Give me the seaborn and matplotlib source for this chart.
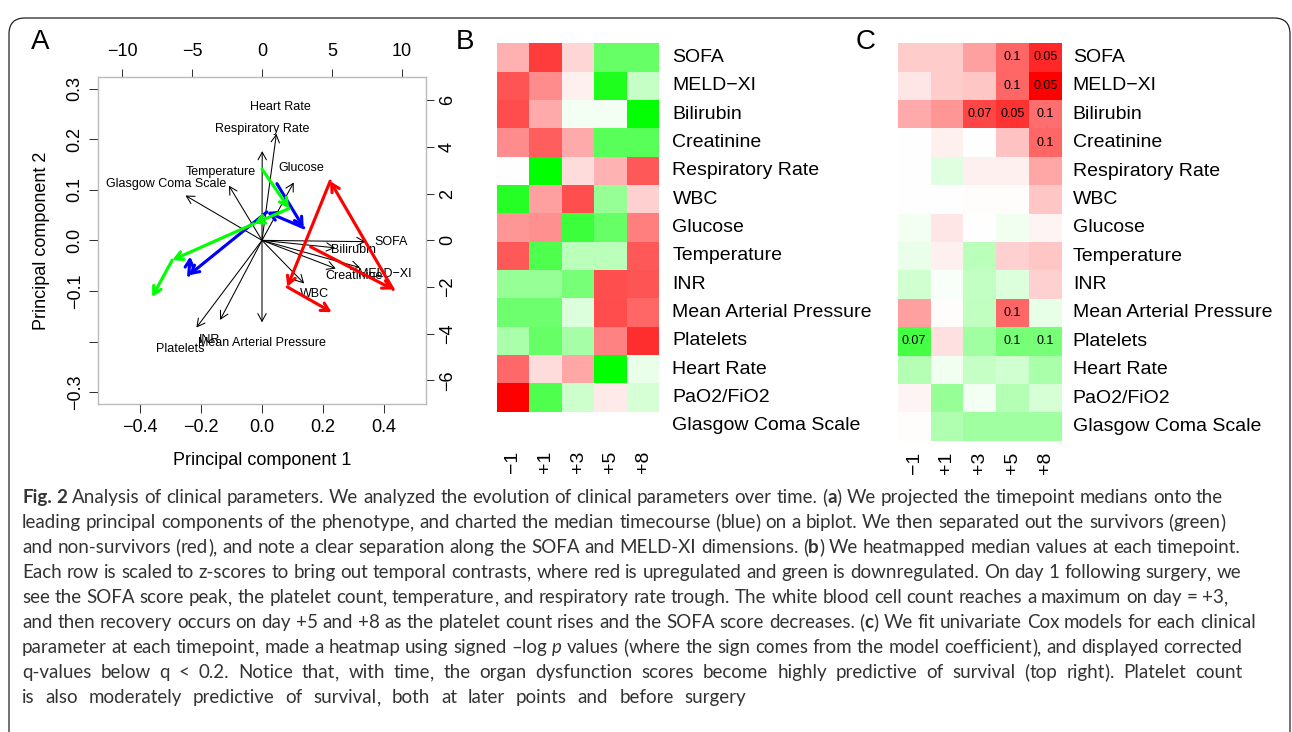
"""Fig. 2 - clinical parameters: PCA biplot plus two timepoint heatmaps."""

import re
import numpy as np
import pandas as pd
import matplotlib
matplotlib.use("Agg")
import matplotlib.pyplot as plt
import seaborn as sns
from matplotlib.colors import LinearSegmentedColormap
from matplotlib.patches import FancyBboxPatch
from matplotlib.transforms import IdentityTransform

plt.rcParams["font.family"] = ["Liberation Sans", "DejaVu Sans"]

# ---------------- data ----------------
timepoints = ["\u22121", "+1", "+3", "+5", "+8"]
params = ["SOFA", "MELD\u2212XI", "Bilirubin", "Creatinine", "Respiratory Rate",
          "WBC", "Glucose", "Temperature", "INR", "Mean Arterial Pressure",
          "Platelets", "Heart Rate", "PaO2/FiO2", "Glasgow Coma Scale"]

# panel A: variable loadings (top / right axis units, label position)
load_names = ["Heart Rate", "Respiratory Rate", "Glucose", "Temperature",
              "Glasgow Coma Scale", "SOFA", "Bilirubin", "MELD\u2212XI",
              "Creatinine", "WBC", "INR", "Mean Arterial Pressure", "Platelets"]
load_x = [1.29, 0.02, 2.84, -2.96, -6.85, 9.26, 6.54, 8.78, 6.60, 3.77, -3.75, 0.0, -5.87]
load_y = [5.71, 4.78, 3.10, 2.93, 2.40, -0.07, -0.40, -1.46, -1.51, -2.31, -4.26, -4.39, -4.67]
ARROW_FRAC = 0.8  # biplot draws arrows to 80% of the label position

# panel A: timecourse medians in PC space (-1, +1, +3, +5, +8)
median_pc1 = [0.049, 0.137, 0.016, -0.241, -0.236]
median_pc2 = [0.112, 0.025, 0.056, -0.069, -0.032]
surv_pc1 = [0.000, 0.089, -0.026, -0.295, -0.361]
surv_pc2 = [0.141, 0.063, 0.033, -0.039, -0.112]
nonsurv_pc1 = [0.160, 0.431, 0.224, 0.083, 0.229]
nonsurv_pc2 = [-0.013, -0.097, 0.117, -0.092, -0.142]

pc1_ticks = [-0.4, -0.2, 0.0, 0.2, 0.4]
pc1_labels = ["\u22120.4", "\u22120.2", "0.0", "0.2", "0.4"]
pc2_ticks = [0.3, 0.2, 0.1, 0.0, -0.1, -0.2, -0.3]
pc2_labels = ["0.3", "0.2", "0.1", "0.0", "\u22120.1", "", "\u22120.3"]
top_ticks = [-10, -5, 0, 5, 10]
top_labels = ["\u221210", "\u22125", "0", "5", "10"]
right_ticks = [6, 4, 2, 0, -2, -4, -6]
right_labels = ["6", "4", "2", "0", "\u22122", "\u22124", "\u22126"]

# panel B: row z-scores of medians
zscore_b = [
    [0.31, 0.76, 0.16, -0.60, -0.60],
    [0.67, 0.45, 0.06, -0.88, -0.22],
    [0.70, 0.33, -0.04, -0.04, -0.98],
    [0.45, 0.63, 0.33, -0.65, -0.65],
    [0.00, -1.00, 0.14, 0.30, 0.65],
    [-0.85, 0.37, 0.69, -0.41, 0.18],
    [0.41, 0.43, -0.76, -0.60, 0.50],
    [0.65, -0.69, -0.27, -0.27, 0.65],
    [-0.41, -0.41, -0.53, 0.69, 0.67],
    [-0.57, -0.57, -0.14, 0.70, 0.60],
    [-0.33, -0.60, -0.35, 0.49, 0.82],
    [0.59, 0.14, 0.35, -1.00, -0.08],
    [1.00, -0.69, -0.20, 0.08, -0.16],
    [np.nan, np.nan, np.nan, np.nan, np.nan],
]

# panel C: signed -log p (scaled) and q-value labels
logp_c = [
    [0.20, 0.20, 0.37, 0.60, 0.84],
    [0.10, 0.20, 0.22, 0.60, 1.00],
    [0.33, 0.41, 0.72, 0.80, 0.57],
    [0.00, 0.06, 0.00, 0.24, 0.60],
    [0.00, -0.12, 0.06, 0.06, 0.35],
    [0.00, 0.00, 0.01, 0.01, 0.22],
    [-0.04, 0.10, 0.00, -0.06, 0.04],
    [-0.08, 0.06, -0.27, 0.18, 0.22],
    [-0.18, -0.03, -0.24, -0.14, 0.18],
    [0.37, 0.01, -0.25, 0.60, -0.10],
    [-0.73, 0.12, -0.37, -0.53, -0.53],
    [-0.29, -0.06, -0.22, -0.18, -0.33],
    [0.04, -0.41, -0.04, -0.29, -0.16],
    [0.01, -0.31, -0.37, -0.37, -0.37],
]
qval_c = [
    ["", "", "", "0.1", "0.05"],
    ["", "", "", "0.1", "0.05"],
    ["", "", "0.07", "0.05", "0.1"],
    ["", "", "", "", "0.1"],
    ["", "", "", "", ""],
    ["", "", "", "", ""],
    ["", "", "", "", ""],
    ["", "", "", "", ""],
    ["", "", "", "", ""],
    ["", "", "", "0.1", ""],
    ["0.07", "", "", "0.1", "0.1"],
    ["", "", "", "", ""],
    ["", "", "", "", ""],
    ["", "", "", "", ""],
]

caption = [
    [("Fig. 2", "bold"), (" Analysis of clinical parameters. We analyzed the evolution of clinical "
                          "parameters over time. (", None), ("a", "bold"),
     (") We projected the timepoint medians onto the", None)],
    [("leading principal components of the phenotype, and charted the median timecourse (blue) "
      "on a biplot. We then separated out the survivors (green)", None)],
    [("and non-survivors (red), and note a clear separation along the SOFA and MELD-XI "
      "dimensions. (", None), ("b", "bold"), (") We heatmapped median values at each timepoint.", None)],
    [("Each row is scaled to z-scores to bring out temporal contrasts, where red is upregulated "
      "and green is downregulated. On day 1 following surgery, we", None)],
    [("see the SOFA score peak, the platelet count, temperature, and respiratory rate trough. "
      "The white blood cell count reaches a maximum on day = +3,", None)],
    [("and then recovery occurs on day +5 and +8 as the platelet count rises and the SOFA score "
      "decreases. (", None), ("c", "bold"), (") We fit univariate Cox models for each clinical", None)],
    [("parameter at each timepoint, made a heatmap using signed \u2013log ", None), ("p", "italic"),
     (" values (where the sign comes from the model coefficient), and displayed corrected", None)],
    [("q-values below q < 0.2. Notice that, with time, the organ dysfunction scores become highly "
      "predictive of survival (top right). Platelet count", None)],
    [("is also moderately predictive of survival, both at later points and before surgery", None)],
]
caption_right = [None, None, None, None, None, None, None, 1242, 746]

# ---------------- layout helpers ----------------
W, H = 1292, 732
fig = plt.figure(figsize=(W / 100, H / 100), dpi=100)
renderer = fig.canvas.get_renderer()


def rect(x0, y0, x1, y1):
    return [x0 / W, 1 - y1 / H, (x1 - x0) / W, (y1 - y0) / H]


# rounded frame around the whole figure
fig.patches.append(FancyBboxPatch((9, -20), 1281, 743 - 9 + 0,
                                  boxstyle="round,pad=0,rounding_size=16",
                                  transform=IdentityTransform(), fill=False,
                                  edgecolor="#222222", lw=0.9))

# ---------------- panel A ----------------
box_a = rect(98.3, 76.7, 425.7, 404)
ax_load = fig.add_axes(box_a)
ax_pc = fig.add_axes(box_a)
ax_pc.set_facecolor("none")

ax_load.set_xlim(-11.72, 11.72)
ax_load.set_ylim(-7.01, 7.01)
for s in ax_load.spines.values():
    s.set_visible(False)
ax_load.xaxis.tick_top()
ax_load.yaxis.tick_right()
ax_load.set_xticks(top_ticks)
ax_load.set_xticklabels(top_labels)
ax_load.set_yticks(right_ticks)
ax_load.set_yticklabels(right_labels, rotation=90, va="center")
ax_load.tick_params(axis="x", length=6, width=0.75, color="#333333", labelsize=13, pad=6)
ax_load.tick_params(axis="y", length=6, width=0.75, color="#333333", labelsize=13, pad=3.5)

for name, lx, ly in zip(load_names, load_x, load_y):
    ax_load.annotate("", xy=(lx * ARROW_FRAC, ly * ARROW_FRAC), xytext=(0, 0),
                     arrowprops=dict(arrowstyle="->,head_length=0.55,head_width=0.3",
                                     lw=0.75, color="black", shrinkA=0, shrinkB=0))
    ax_load.text(lx, ly, name, ha="center", va="center", fontsize=9)

ax_pc.set_xlim(-0.538, 0.538)
ax_pc.set_ylim(-0.3235, 0.3235)
for s in ax_pc.spines.values():
    s.set_color("#BBBBBB")
    s.set_linewidth(1.0)
ax_pc.set_xticks(pc1_ticks)
ax_pc.set_xticklabels(pc1_labels)
ax_pc.set_yticks(pc2_ticks)
ax_pc.set_yticklabels(pc2_labels, rotation=90, va="center")
ax_pc.tick_params(length=6.5, width=0.75, color="#333333", labelsize=13, pad=4)
ax_pc.set_xlabel("Principal component 1", fontsize=13, labelpad=12)
ax_pc.set_ylabel("Principal component 2", fontsize=13, labelpad=12)

for xs, ys, col in [(median_pc1, median_pc2, "#0000FF"),
                    (surv_pc1, surv_pc2, "#00FF00"),
                    (nonsurv_pc1, nonsurv_pc2, "#FF0000")]:
    for i in range(len(xs) - 1):
        ax_pc.annotate("", xy=(xs[i + 1], ys[i + 1]), xytext=(xs[i], ys[i]),
                       arrowprops=dict(arrowstyle="->,head_length=0.55,head_width=0.3",
                                       lw=2.25, color=col, shrinkA=0, shrinkB=0))

# ---------------- panels B and C ----------------
cmap = LinearSegmentedColormap.from_list("gwr", ["#00FF00", "#FFFFFF", "#FF0000"])

df_b = pd.DataFrame(zscore_b, index=params, columns=timepoints)
df_c = pd.DataFrame(logp_c, index=params, columns=timepoints)

ax_b = fig.add_axes(rect(496.7, 43.3, 659.3, 440))
sns.heatmap(df_b, ax=ax_b, cmap=cmap, vmin=-1, vmax=1, cbar=False,
            xticklabels=timepoints, yticklabels=params)

ax_c = fig.add_axes(rect(897.7, 43.3, 1061.7, 440.7))
sns.heatmap(df_c, ax=ax_c, cmap=cmap, vmin=-1, vmax=1, cbar=False,
            annot=np.array(qval_c), fmt="", annot_kws={"fontsize": 9, "color": "black"},
            xticklabels=timepoints, yticklabels=params)

for ax, ypad in [(ax_b, 9.5), (ax_c, 8)]:
    ax.yaxis.tick_right()
    ax.set_yticklabels(params, rotation=0, va="center", ha="left")
    ax.set_xticklabels(timepoints, rotation=90)
    ax.tick_params(axis="y", length=0, pad=ypad, labelsize=14)
    ax.tick_params(axis="x", length=0, pad=8, labelsize=14)
    ax.set_xlabel("")
    ax.set_ylabel("")

# panel letters
for letter, x, y in [("A", 40, 41.7), ("B", 465.5, 41.7), ("C", 866, 41.7)]:
    fig.text(x / W, 1 - y / H, letter, fontsize=20, ha="center", va="center")

# ---------------- caption ----------------
cap_family = "Lato"
cap_color = "#333333"


def style_kw(style):
    if style == "bold":
        return {"fontweight": "bold"}
    if style == "italic":
        return {"fontstyle": "italic"}
    return {}


def width_of(s, size, style=None):
    t = fig.text(0, 0, s, fontsize=size, family=cap_family, **style_kw(style))
    w = t.get_window_extent(renderer).width
    t.remove()
    return w


def tokens_of(runs):
    # words of a line; a word is a list of pieces, with brackets and commas
    # kept apart (Agg misplaces words whose depth comes only from them)
    toks, cur = [], []
    for text, style in runs:
        parts = text.split(" ")
        for i, p in enumerate(parts):
            if i > 0:
                toks.append(cur)
                cur = []
            for piece in re.findall(r"[(),]|[^(),]+", p):
                cur.append((piece, style))
    toks.append(cur)
    return [t for t in toks if t]


def space_of(size):
    return width_of("x x", size) - width_of("xx", size)


def line_width(runs, size):
    toks = tokens_of(runs)
    return (sum(width_of(p, size, st) for t in toks for p, st in t)
            + space_of(size) * (len(toks) - 1))


cap_left = 22
cap_size = 10 * (1222 - cap_left) / line_width(caption[0], 10)
cap_space = space_of(cap_size)

for i, (runs, right) in enumerate(zip(caption, caption_right)):
    toks = tokens_of(runs)
    widths = [[width_of(p, cap_size, st) for p, st in t] for t in toks]
    if right is None:
        gap = cap_space
    else:
        gap = (right - cap_left - sum(sum(w) for w in widths)) / (len(toks) - 1)
    x = cap_left
    y = 503 + 25 * i
    for tok, ws in zip(toks, widths):
        for (p, st), w in zip(tok, ws):
            fig.text(x / W, 1 - y / H, p, fontsize=cap_size, family=cap_family,
                     color=cap_color, va="baseline", ha="left", **style_kw(st))
            x += w
        x += gap

fig.savefig("out.png", dpi=100)
